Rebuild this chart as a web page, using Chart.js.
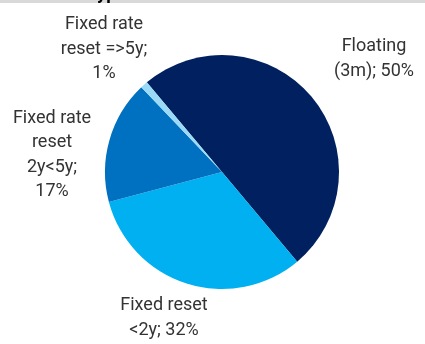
<!DOCTYPE html>
<html>
<head>
<meta charset="utf-8">
<script src="https://cdn.jsdelivr.net/npm/chart.js@4"></script>
<style>
  html, body { margin: 0; padding: 0; background: #fff; }
  #wrap { width: 425px; height: 344px; position: relative; }
</style>
</head>
<body>
<div id="wrap"><canvas id="rateChart" width="425" height="344"></canvas></div>
<script>
// Share of loans by interest rate type (%)
const categories = ['Floating (3m)', 'Fixed reset <2y', 'Fixed rate reset 2y<5y', 'Fixed rate reset =>5y'];
const shares = [50, 32, 17, 1];
const labelLines = [
    ['Floating', '(3m); 50%'],
    ['Fixed reset', '<2y; 32%'],
    ['Fixed rate', 'reset', '2y<5y;', '17%'],
    ['Fixed rate', 'reset =>5y;', '1%']
];
const sliceColors = ['#002060', '#00B0F0', '#0070C0', '#9BDAF7'];

// label block centres, relative to the pie centre
const labelOffsets = [[152, -113], [-58, 146], [-170, -17], [-118, -123]];

// grey header strip with the title cut off at the top
const headerPlugin = {
    id: 'header',
    beforeDraw(chart) {
        const ctx = chart.ctx;
        ctx.save();
        ctx.fillStyle = '#D9D9D9';
        ctx.fillRect(0, 0, chart.width, 3);
        ctx.fillStyle = '#000';
        ctx.font = 'bold 18px Roboto';
        ctx.textAlign = 'right';
        ctx.textBaseline = 'alphabetic';
        ctx.fillText('Loan type', 126, -1);
        ctx.restore();
    }
};

const sliceLabels = {
    id: 'sliceLabels',
    afterDatasetsDraw(chart) {
        const ctx = chart.ctx;
        const arcs = chart.getDatasetMeta(0).data;
        const lineH = 24.5;
        ctx.save();
        ctx.fillStyle = '#333333';
        ctx.font = '18px Roboto';
        ctx.textAlign = 'center';
        ctx.textBaseline = 'middle';
        arcs.forEach((arc, i) => {
            const lines = labelLines[i];
            const cx = arc.x + labelOffsets[i][0];
            const cy = arc.y + labelOffsets[i][1];
            const top = cy - (lines.length - 1) * lineH / 2;
            lines.forEach((t, j) => ctx.fillText(t, cx, top + j * lineH));
        });
        ctx.restore();
    }
};

new Chart(document.getElementById('rateChart'), {
    type: 'pie',
    data: {
        labels: categories,
        datasets: [{
            data: shares,
            backgroundColor: sliceColors,
            borderWidth: 0
        }]
    },
    options: {
        responsive: false,
        animation: false,
        rotation: -40,
        layout: { padding: { left: 105, right: 86, top: 55, bottom: 55 } },
        plugins: {
            legend: { display: false },
            tooltip: { enabled: false }
        }
    },
    plugins: [headerPlugin, sliceLabels]
});
</script>
</body>
</html>
